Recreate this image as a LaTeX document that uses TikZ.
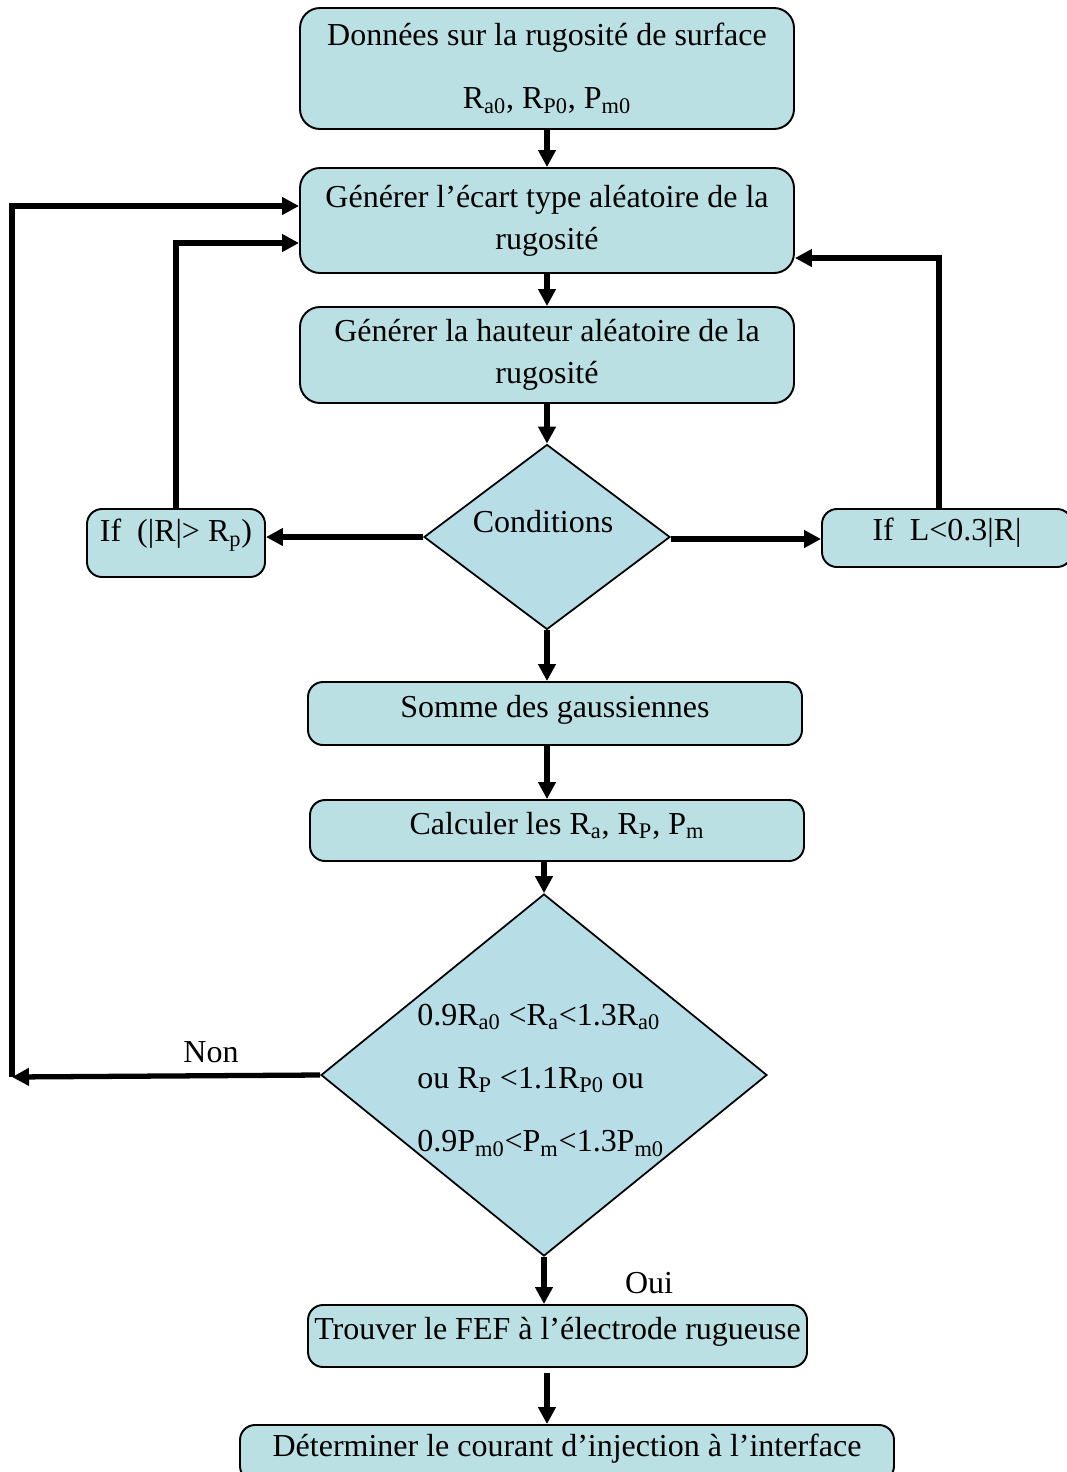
\documentclass[tikz,border=0pt]{standalone}
\usepackage{fontspec}
\setmainfont{Liberation Serif}
\usepackage{tikz}
\usetikzlibrary{arrows.meta, calc, shapes.geometric}
\definecolor{boxfill}{RGB}{186,224,227}
\definecolor{losfill}{RGB}{183,221,230}

\begin{document}
\begin{tikzpicture}[
  font=\fontsize{18.2}{24}\selectfont,
  etape/.style={draw, line width=1.1pt, rounded corners=0.3cm, fill=boxfill, align=center, inner sep=0pt, minimum width=9.88cm},
  losange/.style={draw, line width=1pt, diamond, fill=losfill, inner sep=0pt},
  fl/.style={line width=3pt, -{Triangle[length=0.34cm, width=0.34cm]}}
]
\useasboundingbox (0,0) rectangle (21.34,-29.44);

% boites principales
\node[etape, minimum height=2.42cm, rounded corners=0.4cm] (donnees) at (10.94,-1.37)
  {Données sur la rugosité de surface\\[12pt] R\textsubscript{a0}, R\textsubscript{P0}, P\textsubscript{m0}};
\node[etape, minimum height=2.1cm, rounded corners=0.4cm] (ecart) at (10.94,-4.41)
  {Générer l’écart type aléatoire de la\\ rugosité};
\node[etape, minimum height=1.92cm, rounded corners=0.4cm] (hauteur) at (10.94,-7.1)
  {Générer la hauteur aléatoire de la\\ rugosité};
\node[losange, minimum width=4.92cm, minimum height=3.7cm] (cond) at (10.94,-10.74) {};
\node (condtxt) at (10.86,-10.44) {Conditions};
\node[etape, minimum width=3.56cm, minimum height=1.36cm, text depth=0.5cm] (ifR) at (3.52,-10.86)
  {If~~(|R|> R\textsubscript{p})};
\node[etape, minimum width=5cm, minimum height=1.16cm, text depth=0.35cm] (ifL) at (18.94,-10.76)
  {If~~L<0.3|R|};
\node[etape, minimum height=1.26cm, text depth=0.3cm] (somme) at (11.1,-14.27) {Somme des gaussiennes};
\node[etape, minimum height=1.22cm, text depth=0.3cm] (calc) at (11.14,-16.61)
  {Calculer les R\textsubscript{a}, R\textsubscript{P}, P\textsubscript{m}};
\node[losange, minimum width=8.92cm, minimum height=7.24cm] (crit) at (10.88,-21.5) {};
\node[anchor=west, align=left, inner sep=0pt] (crittxt) at (8.34,-21.6)
  {0.9R\textsubscript{a0} <R\textsubscript{a}<1.3R\textsubscript{a0}\\[12pt]
   ou R\textsubscript{P} <1.1R\textsubscript{P0} ou\\[12pt]
   0.9P\textsubscript{m0}<P\textsubscript{m}<1.3P\textsubscript{m0}};
\node[etape, minimum width=9.98cm, minimum height=1.24cm, text depth=0.3cm] (fef) at (11.15,-26.72)
  {Trouver le FEF à l’électrode rugueuse};
\node[etape, minimum width=13.08cm, minimum height=1.12cm, text depth=0.3cm] (courant) at (11.34,-29.06)
  {Déterminer le courant d’injection à l’interface};

% fleches
\draw[fl] (donnees) -- (ecart);
\draw[fl] (ecart) -- (hauteur);
\draw[fl] (hauteur) -- (cond);
\draw[fl] (cond.west) -- (cond.west -| ifR.east);
\draw[fl] ([yshift=-0.04cm]cond.east) -- ([yshift=-0.04cm]cond.east -| ifL.west);
\draw[fl] (ifR.north) |- ([yshift=-0.45cm]ecart.west);
\draw[fl] ([xshift=-0.16cm]ifL.north) |- ([yshift=-0.75cm]ecart.east);
\draw[fl] (cond.south) -- (cond.south |- somme.north);
\draw[fl] (cond.south |- somme.south) -- (cond.south |- calc.north);
\draw[fl] (crit.north |- calc.south) -- (crit.north);
\draw[fl] (crit.south) -- (crit.south |- fef.north);
\draw[fl] ([yshift=-0.1cm]fef.south -| cond.south) -- (cond.south |- courant.north);

% retour Non
\coordinate (nonpt) at (0.24,-21.54);
\draw[fl] (crit.west) -- (nonpt);
\draw[fl] (nonpt) |- ([yshift=0.29cm]ecart.west);
\node (non) at (4.22,-21.04) {Non};
\node (oui) at (12.98,-25.66) {Oui};
\end{tikzpicture}
\end{document}
